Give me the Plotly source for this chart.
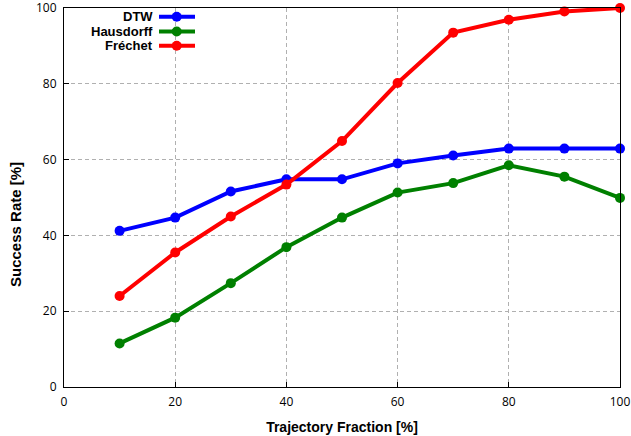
import plotly.graph_objects as go

fractions = [10, 20, 30, 40, 50, 60, 70, 80, 90, 100]
dtw = [41.2, 44.7, 51.6, 54.8, 54.8, 59.0, 61.1, 62.9, 62.9, 62.9]
hausdorff = [11.5, 18.3, 27.4, 36.9, 44.7, 51.3, 53.8, 58.5, 55.5, 49.9]
frechet = [24.0, 35.5, 45.0, 53.4, 64.9, 80.2, 93.5, 96.9, 99.1, 100.0]
series_names = ["DTW", "Hausdorff", "Fréchet"]
series_colors = ["#0000ff", "#008000", "#ff0000"]
x_ticks = [0, 20, 40, 60, 80, 100]
y_ticks = [0, 20, 40, 60, 80, 100]

fig = go.Figure()
for name, vals, col in zip(series_names, [dtw, hausdorff, frechet], series_colors):
    fig.add_trace(go.Scatter(x=fractions, y=vals, mode="lines+markers", name=name,
                             line=dict(color=col, width=4),
                             marker=dict(color=col, size=10),
                             showlegend=False, cliponaxis=False))

# manual legend (text left of sample, gnuplot style)
L, R, T, B = 64, 620, 8, 387
W, H = 631, 436
def px(x): return (x - L) / (R - L)
def py(y): return (B - y) / (B - T)
rows = [16.7, 31.5, 45.7]
for name, col, yy in zip(series_names, series_colors, rows):
    fig.add_annotation(x=px(155), y=py(yy), xref="paper", yref="paper", text=name,
                       showarrow=False, xanchor="right", yanchor="middle",
                       font=dict(family="Liberation Sans", size=13, color="black", weight="bold"))
    fig.add_shape(type="line", xref="paper", yref="paper", x0=px(159), x1=px(195),
                  y0=py(yy), y1=py(yy), line=dict(color=col, width=4))
    fig.add_shape(type="circle", xref="paper", yref="paper",
                  x0=px(176.7 - 5), x1=px(176.7 + 5), y0=py(yy + 5), y1=py(yy - 5),
                  fillcolor=col, line=dict(color=col, width=0))

# y-axis title (placed like the reference, slightly below centre)
fig.add_annotation(x=px(15), y=py(225), xref="paper", yref="paper", text="Success Rate [%]",
                   textangle=-90, showarrow=False, xanchor="center", yanchor="middle",
                   font=dict(family="Liberation Sans", size=15, color="black", weight="bold"))

axis_common = dict(showline=True, linecolor="black", linewidth=1, mirror=True,
                   ticks="inside", ticklen=5, tickcolor="black",
                   showgrid=True, gridcolor="#b0b0b0", griddash="4px,3px", gridwidth=1.2,
                   zeroline=False, automargin=False, ticklabeloverflow="allow",
                   tickfont=dict(family="Open Sans", size=12, color="black"))
fig.update_xaxes(range=[0, 100], tickvals=x_ticks, ticklabelstandoff=4,
                 title=dict(text="Trajectory Fraction [%]", standoff=12,
                            font=dict(family="Liberation Sans", size=14, color="black", weight="bold")),
                 **axis_common)
fig.update_yaxes(range=[0, 100], tickvals=y_ticks, ticklabelstandoff=4, **axis_common)
fig.update_layout(width=W, height=H, margin=dict(l=L, r=W - R, t=T, b=H - B),
                  plot_bgcolor="white", paper_bgcolor="white")
fig.write_html("out.html", config={"displayModeBar": False},
               post_script="document.body.style.margin='0';")
